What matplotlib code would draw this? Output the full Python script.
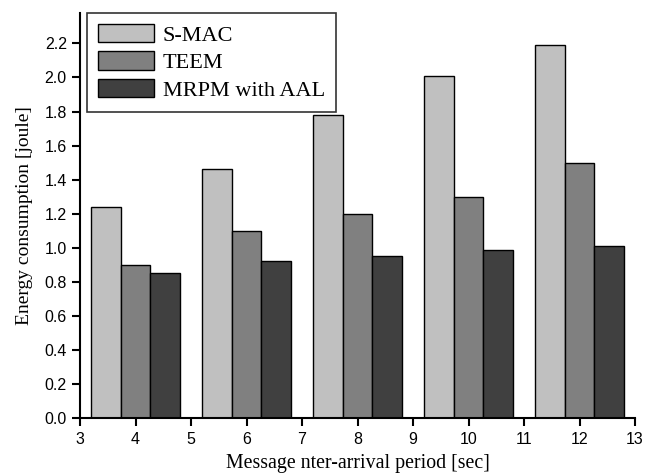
import matplotlib.pyplot as plt
import numpy as np

# Data
periods = [4, 6, 8, 10, 12]
smac = [1.24, 1.46, 1.78, 2.01, 2.19]
teem = [0.90, 1.10, 1.20, 1.30, 1.50]
mrpm = [0.85, 0.92, 0.95, 0.99, 1.01]
labels = ["S-MAC", "TEEM", "MRPM with AAL"]
colors = ["#c0c0c0", "#808080", "#404040"]

fig = plt.figure(figsize=(6.56, 4.73), dpi=100)
ax = fig.add_axes([0.122, 0.116, 0.846, 0.857])

x = np.array(periods)
width = 0.535
for offset, vals, lab, col in zip([-1, 0, 1], [smac, teem, mrpm], labels, colors):
    ax.bar(x + offset * width, vals, width, color=col, edgecolor="black",
           linewidth=1.0, label=lab)

ax.set_xlim(3, 13)
ax.set_ylim(0, 2.38)
ax.set_xticks(range(3, 14))
yt = np.arange(0, 2.21, 0.2)
ax.set_yticks(yt)
ax.set_yticklabels([f"{v:.1f}" for v in yt])

for side in ["top", "right"]:
    ax.spines[side].set_visible(False)
for side in ["left", "bottom"]:
    ax.spines[side].set_linewidth(1.5)

ax.tick_params(axis="both", direction="out", length=6, width=1.5, labelsize=11.5)
ax.tick_params(axis="x", pad=4)
for t in ax.get_xticklabels() + ax.get_yticklabels():
    t.set_fontfamily("Liberation Sans")

ax.set_xlabel("Message nter-arrival period [sec]", fontfamily="Liberation Serif",
              fontsize=14.3, labelpad=5)
ax.set_ylabel("Energy consumption [joule]", fontfamily="Liberation Serif",
              fontsize=14, labelpad=8)

leg = ax.legend(loc="upper left", bbox_to_anchor=(0.013, 1.0),
                prop={"family": "Liberation Serif", "size": 16},
                frameon=True, fancybox=False, handlelength=2.5,
                handleheight=0.9, borderpad=0.5, labelspacing=0.25,
                handletextpad=0.4, borderaxespad=0)
leg.get_frame().set_edgecolor("black")
leg.get_frame().set_linewidth(1.2)

fig.savefig("out.png", dpi=100)
